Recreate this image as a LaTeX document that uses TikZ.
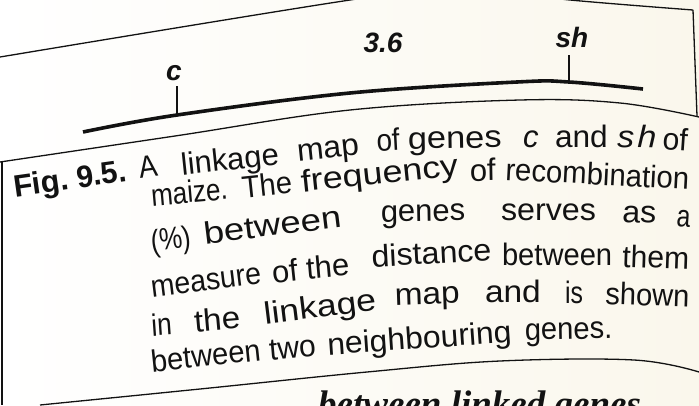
\documentclass[tikz,border=0pt]{standalone}
\usepackage{fontspec}
\setmainfont{Liberation Sans}
\newfontfamily\headfont{Liberation Serif}
\definecolor{ink}{RGB}{18,18,18}
\definecolor{paper}{RGB}{250,247,236}
\begin{document}
\begin{tikzpicture}[x=1pt,y=-1pt,
  word/.style={anchor=base west,inner sep=0pt,outer sep=0pt,text=ink,
    font=\fontsize{31}{31}\selectfont},
  genelabel/.style={anchor=base,inner sep=0pt,text=ink,
    font=\fontsize{28}{28}\selectfont\bfseries\itshape},
  heading/.style={anchor=base west,inner sep=0pt,text=ink,
    font=\fontsize{37}{37}\selectfont\headfont\bfseries\itshape},
  rule/.style={draw=ink,line width=1.3pt},
  chromosome/.style={draw=ink,line width=3.6pt},
  locus/.style={draw=ink,line width=2pt}]

\useasboundingbox (0,0) rectangle (699,405);
\clip (0,0) rectangle (699,405);
\fill[left color=white,right color=paper] (0,0) rectangle (699,405);

% frame around the map
\draw[rule] plot[smooth,tension=0.6] coordinates {(0,57) (350,0) (460,-12) (570,0) (693,10)};
\draw[rule] (693,10) -- (697,116);
\draw[rule] plot[smooth,tension=0.6] coordinates {(0,162) (175,136) (350,110) (520,100) (620,103) (699,117)};
\draw[rule] (2,162) -- (2,405);
\draw[rule] plot[smooth,tension=0.6] coordinates {(40,405) (200,389) (367,372) (500,361) (634,360) (699,372)};

% chromosome with the two loci
\draw[chromosome] plot[smooth,tension=0.6] coordinates {(83,132) (177,115) (350,93) (517,82) (569,82) (643,89)};
\coordinate (cbase) at (177,115);
\coordinate (ctop) at (177,86);
\coordinate (shbase) at (569,82);
\coordinate (shtop) at (569,55);
\draw[locus] (cbase) -- (ctop);
\draw[locus] (shbase) -- (shtop);
\node[genelabel] (clab) at (174,80) {c};
\node[genelabel] (dist) at (383,52) {3.6};
\node[genelabel] (shlab) at (572,47) {sh};

% caption, word by word along the curved page:
% x / y / angle / horizontal scale / word
\foreach \x/\y/\a/\k/\t [count=\i] in {
  15/197/8/1/{\bfseries Fig.}, 78/188/8/0.97/{\bfseries 9.5.}, 140/178/8/0.9/A,
  182/175/6/1/linkage, 298/161/6/1.03/map, 377/151/3/0.9/of, 408/149/1/1.11/genes,
  523/147/0/1/{\itshape c}, 555/147/0/1.02/and, 617/147/-1/1.1/{\itshape s\kern3pt h},
  662/149/-4/0.97/of}
  \node[word,rotate=\a,xscale=\k] (la\i) at (\x,\y) {\t};
\foreach \x/\y/\a/\k/\t [count=\i] in {
  152/206/5/0.84/maize., 243/198/6/0.94/The, 302/192/6/1.16/frequency, 470/181/1/1/of,
  505/180/-3/0.945/recombination}
  \node[word,rotate=\a,xscale=\k] (lb\i) at (\x,\y) {\t};
\foreach \x/\y/\a/\k/\t [count=\i] in {
  152/252/7/0.83/(\%), 205/244/7/1.18/between, 381/222/1/1/genes, 501/220/0/1.04/serves,
  622/222/-2/1.04/as, 676/226/-4/0.8/a}
  \node[word,rotate=\a,xscale=\k] (lc\i) at (\x,\y) {\t};
\foreach \x/\y/\a/\k/\t [count=\i] in {
  152/297/7/0.92/measure, 273/283/6/1/of, 307/279/5/1/the, 372/267/3/1.04/distance,
  502/265/0/0.94/between, 622/267/-2/0.97/them}
  \node[word,rotate=\a,xscale=\k] (ld\i) at (\x,\y) {\t};
\foreach \x/\y/\a/\k/\t [count=\i] in {
  152/336/4/0.85/in, 195/332/5/1.07/the, 265/324/7/1.15/linkage, 395/305/2/1.08/map,
  485/302/0/1.08/and, 565/303/0/0.8/is, 605/304/-2/0.94/shown}
  \node[word,rotate=\a,xscale=\k] (le\i) at (\x,\y) {\t};
\foreach \x/\y/\a/\k/\t [count=\i] in {
  152/372/6/0.94/between, 270/360/5/0.97/two, 328/355/4/1.03/neighbouring, 525/340/1/0.94/genes.}
  \node[word,rotate=\a,xscale=\k] (lf\i) at (\x,\y) {\t};

% next section heading, cut by the lower edge
\node[heading] (head) at (318,416) {between linked genes};
\end{tikzpicture}
\end{document}
